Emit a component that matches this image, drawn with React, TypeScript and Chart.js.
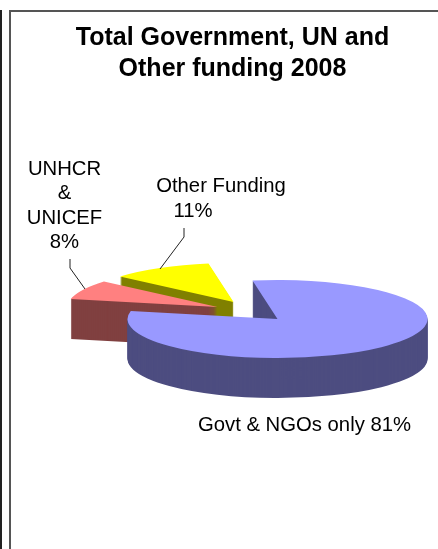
import React, { useEffect, useRef } from "react";
import { Chart, registerables } from "chart.js";

Chart.register(...registerables);

// Funding shares in percent
const categories = ["Govt & NGOs only", "UNHCR & UNICEF", "Other Funding"];
const shares = [81, 8, 11];

const titleLines = ["Total Government, UN and", "Other funding 2008"];

const topColors = ["#9999ff", "#ff8080", "#ffff00"];
const wallColors = ["#4d4d80", "#804040", "#808000"];

const sliceLabels = [
  { lines: ["Govt & NGOs only 81%"], x: [304.5], y: [431] },
  { lines: ["UNHCR", "&", "UNICEF", "8%"], x: [64.5, 64.5, 64.5, 64.5], y: [175, 199, 224, 248] },
  { lines: ["Other Funding", "11%"], x: [221, 193], y: [192, 217] },
];

const leaderLines = [
  [[70, 259], [70, 268], [85, 289]],
  [[184, 228], [184, 237], [160, 269]],
];

// Tilted-disc geometry
const centerX = 277.5;
const centerY = 319;
const radius = 150;
const squash = 0.26;
const depth = 40;
const explode = [[0, 0], [-60, -12], [-44, -17]];
const drawOrder = [2, 1, 0];

const pie3d = {
  id: "pie3d",
  beforeDatasetDraw(chart: any, args: any) {
    const ctx = chart.ctx;
    const arcs = args.meta.data;
    for (const i of drawOrder) {
      const arc = arcs[i];
      const paint = (color: string, dy: number) => {
        const base = arc.options;
        arc.options = Object.create(base, { backgroundColor: { value: color } });
        ctx.save();
        ctx.translate(centerX + explode[i][0], centerY + explode[i][1] + dy);
        ctx.scale(1, squash);
        ctx.translate(-arc.x, -arc.y);
        arc.draw(ctx);
        ctx.restore();
        arc.options = base;
      };
      for (let d = depth; d > 0; d--) paint(wallColors[i], d);
      paint(topColors[i], 0);
    }
    return false;
  },
  afterDraw(chart: any) {
    const ctx = chart.ctx;
    ctx.save();
    ctx.strokeStyle = "#222222";
    ctx.lineWidth = 1;
    for (const path of leaderLines) {
      ctx.beginPath();
      path.forEach(([x, y], n) => (n ? ctx.lineTo(x, y) : ctx.moveTo(x, y)));
      ctx.stroke();
    }
    ctx.fillStyle = "#000000";
    ctx.font = '20.3px "Liberation Sans"';
    ctx.textAlign = "center";
    ctx.textBaseline = "alphabetic";
    for (const label of sliceLabels) {
      label.lines.forEach((line, n) => ctx.fillText(line, label.x[n], label.y[n]));
    }
    ctx.restore();
  },
};

export default function App() {
  const ref = useRef<HTMLCanvasElement>(null);

  useEffect(() => {
    document.body.style.margin = "0";
    const chart = new Chart(ref.current!, {
      type: "pie",
      data: {
        labels: categories,
        datasets: [{ data: shares, backgroundColor: topColors, borderWidth: 0, clip: false } as any],
      },
      options: {
        animation: false,
        responsive: false,
        rotation: -9.6,
        radius,
        layout: { padding: { left: 27, top: 23 } },
        plugins: {
          legend: { display: false },
          tooltip: { enabled: false },
          title: {
            display: true,
            text: titleLines,
            color: "#000000",
            font: { family: '"Liberation Sans"', size: 25, weight: "bold", lineHeight: 1.24 },
            padding: 0,
          },
        },
      } as any,
      plugins: [pie3d],
    });
    return () => chart.destroy();
  }, []);

  const rule = (left: number, top: number, width: number, height: number, background: string) => (
    <div style={{ position: "absolute", left, top, width, height, background }} />
  );

  return (
    <div style={{ position: "absolute", left: 0, top: 0, width: 438, height: 549, overflow: "hidden", background: "#fff" }}>
      <canvas ref={ref} width={438} height={549} style={{ display: "block" }} />
      {rule(0, 10, 2, 539, "#222222")}
      {rule(9, 10, 2, 539, "#555555")}
      {rule(9, 10, 429, 2, "#555555")}
    </div>
  );
}
